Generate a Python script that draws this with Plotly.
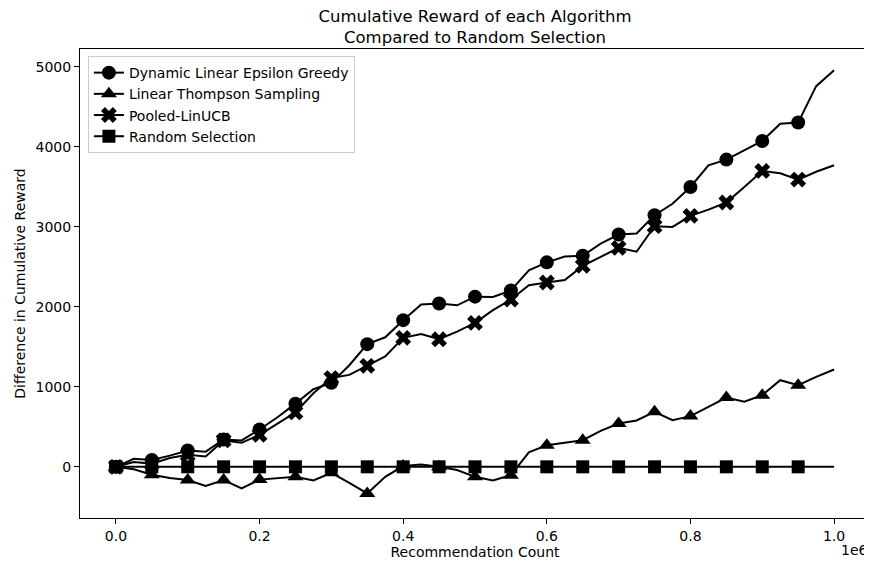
import plotly.graph_objects as go

# x positions (recommendation count) at which values were read
x_counts = [i * 25000 for i in range(41)]

dleg = [0, 100, 85, 140, 205, 190, 342, 330, 467, 620,
        790, 970, 1050, 1270, 1534, 1620, 1834, 2030, 2042, 2020,
        2128, 2125, 2205, 2458, 2557, 2630, 2640, 2790, 2905, 2917,
        3146, 3290, 3500, 3770, 3842, 3960, 4075, 4290, 4305, 4760,
        4960]
lts = [0, -30, -100, -140, -165, -240, -165, -270, -160, -140,
       -125, -170, -75, -200, -333, -125, 10, 30, 0, -40,
       -125, -170, -104, 180, 271, 300, 333, 450, 542, 580,
       688, 584, 634, 750, 867, 813, 896, 1083, 1021, 1125,
       1217]
plin = [0, 60, 40, 110, 150, 130, 330, 300, 400, 540,
        680, 920, 1110, 1150, 1263, 1380, 1613, 1660, 1595, 1690,
        1800, 1960, 2092, 2270, 2305, 2335, 2513, 2625, 2738, 2690,
        3009, 3000, 3138, 3217, 3305, 3500, 3700, 3670, 3592, 3690,
        3771]
rand = [0] * 41

series_names = ["Dynamic Linear Epsilon Greedy", "Linear Thompson Sampling",
                "Pooled-LinUCB", "Random Selection"]
series_values = [dleg, lts, plin, rand]
series_symbols = ["circle", "triangle-up", "x", "square"]
series_sizes = [14, 14, 14, 13]

x_tick_vals = [0, 200000, 400000, 600000, 800000, 1000000]
x_tick_text = ["0.0", "0.2", "0.4", "0.6", "0.8", "1.0"]
y_tick_vals = [0, 1000, 2000, 3000, 4000, 5000]
y_tick_text = ["0", "1000", "2000", "3000", "4000", "5000"]

FONT = "DejaVu Sans"
fig = go.Figure()

for name, vals, sym, sz in zip(series_names, series_values, series_symbols, series_sizes):
    fig.add_trace(go.Scatter(x=x_counts, y=vals, mode="lines",
                             line=dict(color="black", width=2),
                             showlegend=False, hoverinfo="skip"))
    mx = x_counts[0:40:2]
    my = vals[0:40:2]
    fig.add_trace(go.Scatter(x=mx, y=my, mode="markers",
                             marker=dict(symbol=sym, size=sz, color="black",
                                         line=dict(width=0)),
                             showlegend=False))

for name, sym, sz in zip(series_names, series_symbols, series_sizes):
    fig.add_trace(go.Scatter(x=[None], y=[None], mode="lines+markers", name=name,
                             line=dict(color="black", width=2),
                             marker=dict(symbol=sym, size=sz, color="black",
                                         line=dict(width=0))))

axis_common = dict(showline=True, mirror=True, linecolor="black", linewidth=1,
                   ticks="outside", ticklen=5, tickcolor="black", tickwidth=1,
                   showgrid=False, zeroline=False,
                   tickfont=dict(family=FONT, size=14, color="black"))

fig.update_layout(
    width=864, height=559,
    margin=dict(l=72, r=2, t=41, b=49),
    plot_bgcolor="white", paper_bgcolor="white",
    font=dict(family=FONT, size=14, color="black"),
    title=dict(text="Cumulative Reward of each Algorithm<br>Compared to Random Selection",
               x=0.5, xref="paper", xanchor="center",
               y=0.975, yref="container", yanchor="top",
               font=dict(family=FONT, size=16.5, color="black")),
    xaxis=dict(range=[-50000, 1050000], tickvals=x_tick_vals, ticktext=x_tick_text,
               title=dict(text="Recommendation Count", standoff=4,
                          font=dict(family=FONT, size=14)),
               **axis_common),
    yaxis=dict(range=[-640, 5225], tickvals=y_tick_vals, ticktext=y_tick_text,
               title=dict(text="Difference in Cumulative Reward", standoff=6,
                          font=dict(family=FONT, size=14)),
               **axis_common),
    legend=dict(x=0.01, y=0.985, xanchor="left", yanchor="top",
                bgcolor="rgba(255,255,255,0.8)", bordercolor="#cccccc", borderwidth=1,
                font=dict(family=FONT, size=14, color="black")),
    annotations=[dict(text="1e6", xref="paper", yref="paper", x=1, y=-0.068,
                      xanchor="right", yanchor="middle", showarrow=False,
                      font=dict(family=FONT, size=14, color="black"))],
)

fig.write_html("out.html")
